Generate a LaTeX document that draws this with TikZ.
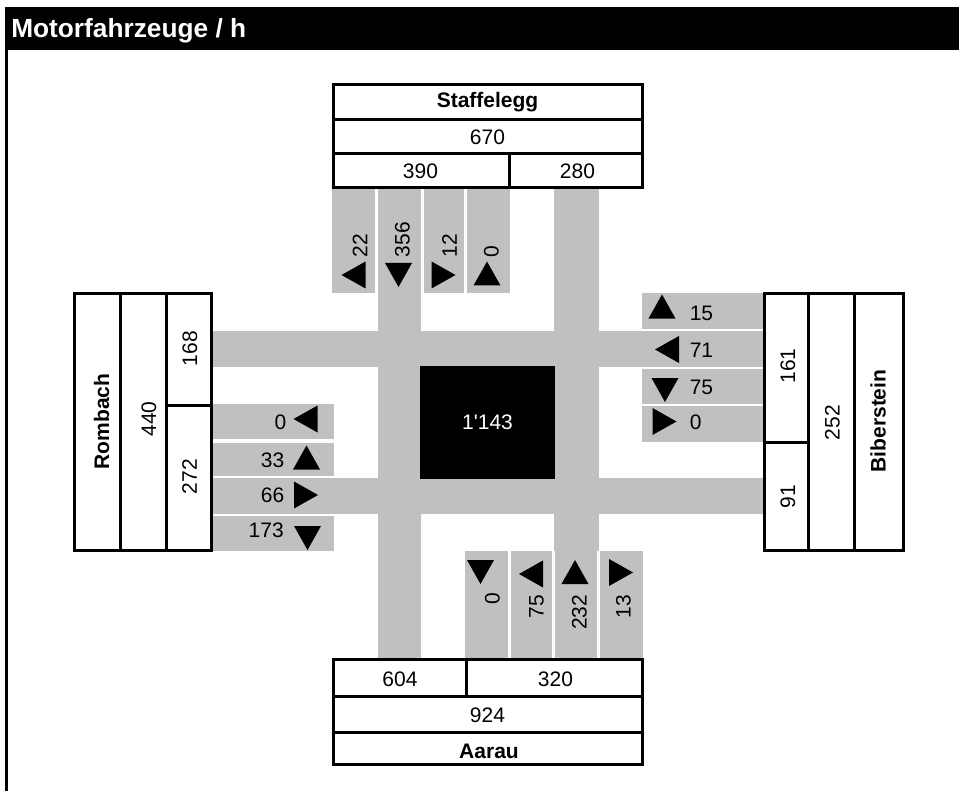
\documentclass[tikz,border=0pt]{standalone}
\usepackage{fontspec}
\setmainfont{Liberation Sans}
\usepackage{xcolor}
\usetikzlibrary{positioning}
\definecolor{roadgray}{RGB}{192, 192, 192}

% filled direction triangle: centre, angle
\newcommand{\dirtri}[2]{\fill[shift={#1}, rotate=#2] (12,0) -- (-12,13.5) -- (-12,-13.5) -- cycle;}

\begin{document}
\begin{tikzpicture}[x=0.75pt, y=-0.75pt,
  lane/.style={fill=roadgray},
  frame/.style={draw, line width=2.25pt},
  lbl/.style={font=\fontsize{15.75}{18}\selectfont, inner sep=0pt},
  place/.style={font=\fontsize{15.75}{18}\selectfont\bfseries, inner sep=0pt},
  vlbl/.style={lbl, rotate=90},
  vplace/.style={place, rotate=90}
]
  \useasboundingbox (0,0) rectangle (959,791);

  % header bar and left rule
  \fill (5,7) rectangle (959,50);
  \draw[line width=2.25pt] (6.5,7) -- (6.5,791);
  \node[font=\fontsize{19.7}{22}\selectfont\bfseries, text=white, anchor=base west, inner sep=0pt]
    (title) at (11,38) {Motorfahrzeuge / h};

  % roads through the junction
  \fill[lane] (378,189) rectangle (421,658);
  \fill[lane] (554,189) rectangle (598.5,551);
  \fill[lane] (212,331) rectangle (763,366.5);
  \fill[lane] (212,478) rectangle (763,514);
  \fill[lane] (378,331) rectangle (598.5,514);
  \fill (420,366) rectangle (555,479);
  \node[lbl, text=white] (total) at (487.5,422.5) {1\textquotesingle 143};

  % lanes Staffelegg
  \fill[lane] (332,189) rectangle (375,293);
  \fill[lane] (423.5,189) rectangle (464,293);
  \fill[lane] (467,189) rectangle (510,293);
  % lanes Rombach
  \fill[lane] (212,404) rectangle (334,439);
  \fill[lane] (212,442.5) rectangle (334,475.5);
  \fill[lane] (212,478) rectangle (334,513.5);
  \fill[lane] (212,516) rectangle (334,551);
  % lanes Biberstein
  \fill[lane] (642,293) rectangle (763,328.5);
  \fill[lane] (642,368.5) rectangle (763,403.5);
  \fill[lane] (642,406) rectangle (763,442);
  % lanes Aarau
  \fill[lane] (465,551) rectangle (508,658);
  \fill[lane] (511,551) rectangle (552,658);
  \fill[lane] (555,551) rectangle (596.5,658);
  \fill[lane] (599.5,551) rectangle (643,658);

  % Staffelegg box
  \draw[frame] (333,85) rectangle (642.5,188);
  \draw[frame] (333,120) -- (642.5,120);
  \draw[frame] (333,154) -- (642.5,154);
  \draw[frame] (509,154) -- (509,188);
  \node[place] (staffelegg) at (487.5,102) {Staffelegg};
  \node[lbl] (st_total) at (487.5,137) {670};
  \node[lbl] (st_in) at (420.5,171) {390};
  \node[lbl] (st_out) at (577.5,171) {280};

  % Aarau box
  \draw[frame] (333,659.5) rectangle (642.5,764);
  \draw[frame] (333,696) -- (642.5,696);
  \draw[frame] (333,732) -- (642.5,732);
  \draw[frame] (466,659.5) -- (466,696);
  \node[lbl] (aa_out) at (400,679) {604};
  \node[lbl] (aa_in) at (555.5,679) {320};
  \node[lbl] (aa_total) at (487.5,715.5) {924};
  \node[place] (aarau) at (489,751) {Aarau};

  % Rombach box
  \draw[frame] (74,294) rectangle (211.5,550.5);
  \draw[frame] (120,294) -- (120,550.5);
  \draw[frame] (166.5,294) -- (166.5,550.5);
  \draw[frame] (166.5,405) -- (211.5,405);
  \node[vplace] (rombach) at (101.5,421.5) {Rombach};
  \node[vlbl] (ro_total) at (149,419) {440};
  \node[vlbl] (ro_out) at (190,348.5) {168};
  \node[vlbl] (ro_in) at (189.5,476.5) {272};

  % Biberstein box
  \draw[frame] (764.5,294) rectangle (903,550.5);
  \draw[frame] (808.5,294) -- (808.5,550.5);
  \draw[frame] (854,294) -- (854,550.5);
  \draw[frame] (764.5,442) -- (808.5,442);
  \node[vlbl] (bi_in) at (788,366) {161};
  \node[vlbl] (bi_out) at (788,496.5) {91};
  \node[vlbl] (bi_total) at (832.5,422.5) {252};
  \node[vplace] (biberstein) at (878,421) {Biberstein};

  % turning counts Staffelegg
  \node[vlbl, anchor=west] (st_l) at (360,257.5) {22};
  \node[vlbl, anchor=west] (st_s) at (402.5,257.5) {356};
  \node[vlbl, anchor=west] (st_r) at (449.5,257.5) {12};
  \node[vlbl, anchor=west] (st_u) at (491.5,258) {0};
  \dirtri{(353.5,275)}{180}
  \dirtri{(398.5,275)}{270}
  \dirtri{(443.5,275)}{0}
  \dirtri{(487,273.5)}{90}

  % turning counts Rombach
  \node[lbl, anchor=east] (ro_u) at (286.5,422.5) {0};
  \node[lbl, anchor=east] (ro_l) at (284.5,460.5) {33};
  \node[lbl, anchor=east] (ro_s) at (284.5,495) {66};
  \node[lbl, anchor=east] (ro_r) at (284,530) {173};
  \dirtri{(305.5,419)}{180}
  \dirtri{(306.5,457.5)}{90}
  \dirtri{(306,495)}{0}
  \dirtri{(307.5,538)}{270}

  % turning counts Biberstein
  \node[lbl, anchor=west] (bi_r) at (689.5,313.5) {15};
  \node[lbl, anchor=west] (bi_s) at (689.5,350) {71};
  \node[lbl, anchor=west] (bi_l) at (689.5,387) {75};
  \node[lbl, anchor=west] (bi_u) at (689.5,422) {0};
  \dirtri{(662,306.5)}{90}
  \dirtri{(667,349.5)}{180}
  \dirtri{(665,390)}{270}
  \dirtri{(664.5,421.5)}{0}

  % turning counts Aarau
  \node[vlbl, anchor=east] (aa_u) at (492.5,593) {0};
  \node[vlbl, anchor=east] (aa_r) at (536.5,594.5) {75};
  \node[vlbl, anchor=east] (aa_s) at (579.5,594.5) {232};
  \node[vlbl, anchor=east] (aa_l) at (623.5,594.5) {13};
  \dirtri{(480.5,572)}{270}
  \dirtri{(531,574)}{180}
  \dirtri{(575,572)}{90}
  \dirtri{(621,572.5)}{0}
\end{tikzpicture}
\end{document}
